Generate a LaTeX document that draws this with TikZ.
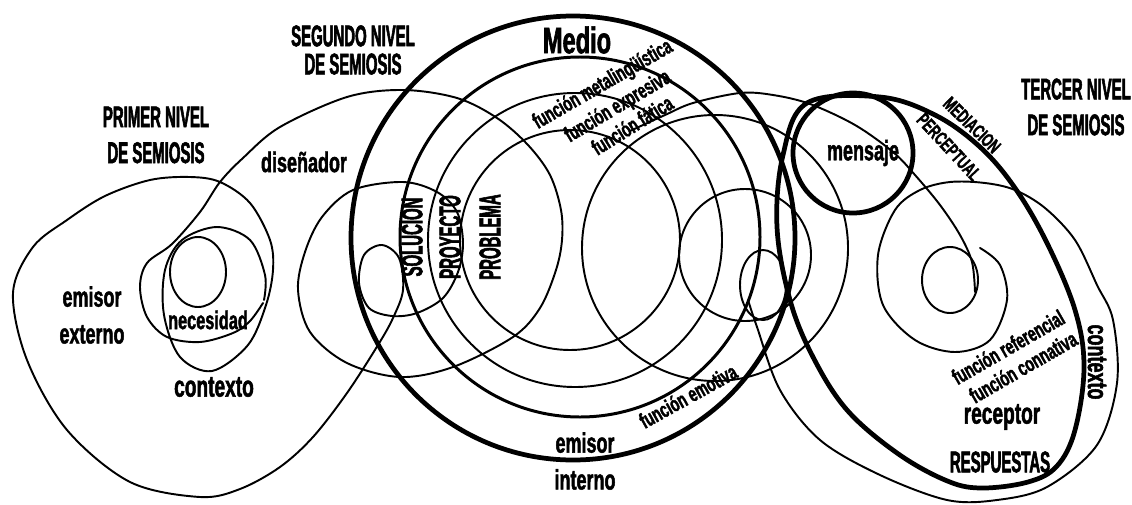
\documentclass[tikz,border=0pt]{standalone}
\usepackage{fontspec}
\usetikzlibrary{positioning}
\newfontfamily\rotfont{Liberation Sans Bold}[FakeStretch=0.64,FakeBold=1.6]
\newfontfamily\capfont{Liberation Sans Bold}[FakeStretch=0.5,FakeBold=1.8]
\tikzstyle{fino}=[line width=1.1pt,line cap=round,line join=round]
\tikzstyle{mediano}=[line width=1.7pt]
\tikzstyle{grueso}=[line width=2.7pt]
\tikzstyle{titulo}=[font=\capfont\fontsize{17}{20.4}\selectfont,align=center,inner sep=0pt]
\tikzstyle{etiq}=[font=\rotfont\fontsize{16}{21}\selectfont,align=center,inner sep=0pt]
\tikzstyle{func}=[font=\rotfont\fontsize{12.5}{14}\selectfont,inner sep=0pt]
\tikzstyle{vert}=[font=\capfont\fontsize{17}{19}\selectfont,inner sep=0pt,rotate=90]

\begin{document}
\begin{tikzpicture}[x=0.02cm,y=-0.02cm]
\useasboundingbox (0,0) rectangle (1132,504);
% primer nivel: espiral del emisor externo y del disenador
\draw[fino] plot[smooth,tension=0.55] coordinates {(263,303) (250,321) (233,333) (200,342) (167,337) (147,317) (140,287) (147,263) (172,244) (200,212) (220,182) (243,158) (280,127) (347,97) (403,90) (457,98) (497,118) (528,145) (550,175) (561,210) (562,240) (556,270) (540,308) (513,337) (453,367) (400,377) (347,363) (310,332) (298,290) (305,252) (322,217) (353,190) (403,182) (437,192) (457,212) (463,243) (458,272) (443,298) (417,313) (392,316) (369,308) (359,283) (364,255) (382,245) (399,258) (403,290) (393,318) (378,345) (347,393) (313,437) (280,467) (240,489) (200,497) (130,482) (67,430) (27,360) (13,293) (33,247) (67,220) (105,196) (150,180) (190,177) (220,182) (250,203) (270,240) (273,270) (266,305) (248,345) (212,371) (180,357) (164,315) (165,270) (182,240) (217,227) (250,240) (265,275) (264,300)};
\draw[fino] (198,272) ellipse [x radius=28,y radius=35];
% segundo nivel: medio y circulos internos
\draw[grueso] (573,238) ellipse [x radius=222,y radius=222];
\draw[mediano] (580,237) circle [radius=180];
\draw[fino] (575,240) circle [radius=147];
\draw[fino] (570,240) circle [radius=110];
\draw[fino] (715,248) circle [radius=133];
\draw[fino] (745,255) circle [radius=66];
\draw[fino] (763,285) ellipse [x radius=23,y radius=35];
% tercer nivel
\draw[grueso] plot[smooth cycle,tension=0.6] coordinates {(807,103) (880,97) (935,115) (980,147) (1015,188) (1047,243) (1075,310) (1084,367) (1075,430) (1057,466) (1028,482) (980,488) (945,480) (897,453) (847,410) (813,357) (790,300) (777,227) (783,155)};
\draw[grueso] (853,153) circle [radius=60];
\draw[fino] plot[smooth,tension=0.55] coordinates {(748,300) (757,327) (780,390) (820,440) (880,475) (947,500) (997,500) (1047,487) (1097,445) (1117,383) (1113,320) (1097,285) (1075,240) (1045,208) (1015,190) (985,183) (950,182) (920,190) (895,210) (878,255) (883,305) (915,340) (955,352) (990,340) (1007,300) (1000,265) (980,248)};
\draw[fino] (950,280) ellipse [x radius=28,y radius=33];
\draw[fino] plot[smooth,tension=0.55] coordinates {(975,292) (972,262) (960,235) (940,205) (915,175) (893,152) (855,125) (810,104) (773,95) (740,93) (693,103) (665,115) (630,131)};

% textos
\node[titulo] (primer) at (156,135) {PRIMER NIVEL\\DE SEMIOSIS};
\node[titulo,font=\capfont\fontsize{17}{16}\selectfont] (segundo) at (353,50) {SEGUNDO NIVEL\\DE SEMIOSIS};
\node[titulo] (tercer) at (1076,107) {TERCER NIVEL\\DE SEMIOSIS};
\node[etiq] (disenador) at (304,162) {diseñador};
\node[etiq] (emisorext) at (92,315) {emisor\\externo};
\node[etiq,font=\rotfont\fontsize{14.5}{16}\selectfont] (necesidad) at (208,320) {necesidad};
\node[etiq,font=\rotfont\fontsize{17}{19}\selectfont] (contextoA) at (214,387) {contexto};
\node[etiq,font=\rotfont\fontsize{21}{24}\selectfont] (medio) at (577,40) {Medio};
\node[func,rotate=30] (fmeta) at (603,85) {función metalingüística};
\node[func,rotate=31] (fexpr) at (618,107) {función expresiva};
\node[func,rotate=32] (ffat) at (632,125) {función fática};
\node[vert] (solucion) at (412,237) {SOLUCION};
\node[vert] (proyecto) at (450,237) {PROYECTO};
\node[vert] (problema) at (490,237) {PROBLEMA};
\node[etiq] (emisorint) at (585,461) {emisor\\interno};
\node[func,rotate=29] (femot) at (688,396) {función emotiva};
\node[etiq] (mensaje) at (863,153) {mensaje};
\node[func,font=\rotfont\fontsize{11}{12}\selectfont,rotate=-44] (mediacion) at (972,125) {MEDIACION};
\node[func,font=\rotfont\fontsize{11}{12}\selectfont,rotate=-47] (percep) at (949,147) {PERCEPTUAL};
\node[func,rotate=30] (freferencial) at (1008,347) {función referencial};
\node[func,rotate=30] (fconnativa) at (1023,367) {función connativa};
\node[etiq,font=\rotfont\fontsize{17}{19}\selectfont] (receptor) at (1002,417) {receptor};
\node[titulo] (respuestas) at (1000,462) {RESPUESTAS};
\node[etiq,rotate=-90] (contextoB) at (1097,362) {contexto};
\end{tikzpicture}
\end{document}
